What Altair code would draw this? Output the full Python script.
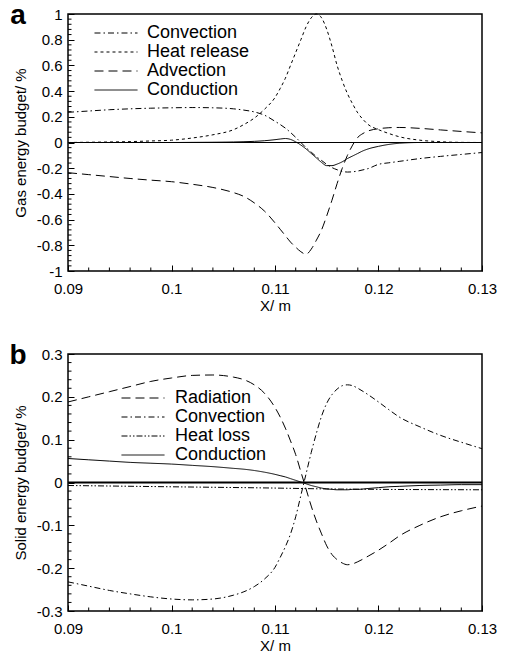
import altair as alt
import pandas as pd

FONT = "Liberation Sans"

# ---------------- Panel a: gas energy budget ----------------
xa = [0.09, 0.092, 0.094, 0.096, 0.098, 0.1, 0.102, 0.104, 0.106, 0.107, 0.108, 0.109,
      0.11, 0.1105, 0.111, 0.1115, 0.112, 0.1125, 0.113, 0.1135, 0.114, 0.1145, 0.115,
      0.1155, 0.116, 0.1165, 0.117, 0.1175, 0.118, 0.1185, 0.119, 0.12, 0.121, 0.122,
      0.124, 0.126, 0.128, 0.13]
a_convection = [0.235, 0.245, 0.255, 0.262, 0.267, 0.27, 0.272, 0.27, 0.262, 0.252, 0.238, 0.212,
                0.165, 0.14, 0.112, 0.078, 0.04, 0.0, -0.04, -0.075, -0.11, -0.14, -0.17,
                -0.195, -0.212, -0.225, -0.23, -0.228, -0.222, -0.213, -0.203, -0.17, -0.158, -0.147,
                -0.125, -0.108, -0.093, -0.078]
a_heat_release = [0.0, 0.002, 0.004, 0.007, 0.012, 0.018, 0.035, 0.06, 0.1, 0.14, 0.19, 0.26,
                  0.35, 0.42, 0.5, 0.6, 0.7, 0.8, 0.9, 0.97, 1.0, 0.97, 0.88,
                  0.75, 0.6, 0.48, 0.38, 0.3, 0.23, 0.18, 0.14, 0.1, 0.07, 0.045,
                  0.018, 0.006, 0.001, 0.0]
a_advection = [-0.235, -0.25, -0.265, -0.28, -0.293, -0.305, -0.325, -0.35, -0.39, -0.42, -0.47, -0.535,
               -0.625, -0.675, -0.725, -0.775, -0.815, -0.85, -0.87, -0.83, -0.76, -0.68, -0.57,
               -0.45, -0.32, -0.2, -0.1, -0.02, 0.04, 0.07, 0.09, 0.107, 0.115, 0.117,
               0.11, 0.098, 0.086, 0.075]
a_conduction = [0.0, 0.0, 0.0, 0.0, 0.0, 0.0, 0.001, 0.002, 0.004, 0.006, 0.009, 0.014,
                0.022, 0.027, 0.031, 0.024, 0.005, -0.02, -0.05, -0.085, -0.12, -0.155, -0.18,
                -0.18, -0.168, -0.15, -0.125, -0.105, -0.085, -0.065, -0.05, -0.03, -0.015, -0.006,
                0.0, 0.0, 0.0, 0.0]

a_series = ["Convection", "Heat release", "Advection", "Conduction"]
a_dashes = [[6, 3, 1.5, 3], [3, 3], [9, 5], [1, 0]]

# ---------------- Panel b: solid energy budget ----------------
xb = [0.09, 0.092, 0.094, 0.096, 0.098, 0.1, 0.102, 0.104, 0.106, 0.107, 0.108, 0.109,
      0.11, 0.1105, 0.111, 0.1115, 0.112, 0.1125, 0.113, 0.1135, 0.114, 0.1145, 0.115,
      0.1155, 0.116, 0.1165, 0.117, 0.1175, 0.118, 0.119, 0.12, 0.121, 0.122,
      0.124, 0.126, 0.128, 0.13]
b_radiation = [0.188, 0.2, 0.212, 0.224, 0.236, 0.244, 0.25, 0.251, 0.246, 0.24, 0.228, 0.208,
               0.175, 0.153, 0.127, 0.097, 0.065, 0.025, -0.015, -0.055, -0.09, -0.12, -0.148,
               -0.168, -0.18, -0.188, -0.192, -0.19, -0.185, -0.172, -0.158, -0.142, -0.125,
               -0.1, -0.08, -0.066, -0.055]
b_convection = [-0.232, -0.242, -0.252, -0.26, -0.267, -0.272, -0.274, -0.272, -0.263, -0.255, -0.243, -0.225,
                -0.198, -0.175, -0.15, -0.12, -0.08, -0.03, 0.02, 0.07, 0.115, 0.155, 0.185,
                0.205, 0.218, 0.226, 0.228, 0.226, 0.22, 0.205, 0.188, 0.17, 0.153,
                0.13, 0.11, 0.094, 0.079]
b_conduction = [0.056, 0.053, 0.05, 0.047, 0.045, 0.043, 0.04, 0.037, 0.033, 0.031, 0.028, 0.024,
                0.019, 0.016, 0.013, 0.009, 0.005, 0.001, -0.003, -0.007, -0.01, -0.013, -0.015,
                -0.016, -0.017, -0.017, -0.017, -0.016, -0.016, -0.014, -0.012, -0.01, -0.009,
                -0.007, -0.006, -0.005, -0.005]
xb_loss = [0.09, 0.1, 0.11, 0.115, 0.12, 0.13]
b_heat_loss = [-0.007, -0.01, -0.013, -0.015, -0.016, -0.017]

b_series = ["Radiation", "Convection", "Heat loss", "Conduction"]
b_dashes = [[9, 5], [6, 3, 1.5, 3], [6, 2, 1.5, 2, 1.5, 2], [1, 0]]

x_major = [0.09, 0.1, 0.11, 0.12, 0.13]
x_minor = [0.092, 0.094, 0.096, 0.098, 0.102, 0.104, 0.106, 0.108, 0.112, 0.114, 0.116, 0.118,
           0.122, 0.124, 0.126, 0.128]
a_y_major = [-1, -0.8, -0.6, -0.4, -0.2, 0, 0.2, 0.4, 0.6, 0.8, 1]
b_y_major = [-0.3, -0.2, -0.1, 0, 0.1, 0.2, 0.3]


def long_df(pairs):
    rows = []
    for name, xs, ys in pairs:
        for xv, yv in zip(xs, ys):
            rows.append({"x": xv, "v": yv, "series": name})
    return pd.DataFrame(rows)


def minor_between(majors, n):
    out = []
    for lo, hi in zip(majors[:-1], majors[1:]):
        for k in range(1, n):
            out.append(round(lo + (hi - lo) * k / n, 6))
    return out


W = 414
TICK = 6
MINOR = 3.5
AX_STYLE = dict(labelFont=FONT, labelFontSize=15, labelColor="black", titleFont=FONT,
                titleFontSize=15, titleFontWeight="normal", titleColor="black",
                tickColor="black", tickWidth=1, domain=False, grid=False, labelOverlap=False)


def panel(df, order, dashes, ytitle, ymajor, H, letter, lx, ly, zero_width, loff):
    xs = alt.Scale(domain=[0.09, 0.13], nice=False, zero=False)
    ys = alt.Scale(domain=[ymajor[0], ymajor[-1]], nice=False, zero=False)
    ax_x = alt.Axis(title="X/ m", values=x_major, labelExpr="'' + datum.value", offset=-TICK,
                    tickSize=TICK, labelPadding=10, titlePadding=2, labelFlush=False, **AX_STYLE)
    ax_y = alt.Axis(title=ytitle, values=ymajor, labelExpr="'' + datum.value", offset=-TICK,
                    tickSize=TICK, labelPadding=6, titlePadding=8, **AX_STYLE)
    lines = alt.Chart(df).mark_line(color="black", strokeWidth=1, interpolate="monotone").encode(
        x=alt.X("x:Q", scale=xs, axis=ax_x),
        y=alt.Y("v:Q", scale=ys, axis=ax_y),
        strokeDash=alt.StrokeDash("series:N", sort=order,
                                  scale=alt.Scale(domain=order, range=dashes),
                                  legend=alt.Legend(
                                      title=None, orient="none", legendX=lx, legendY=ly,
                                      symbolType="M-4,0L4,0", symbolSize=115.6,
                                      symbolStrokeColor="black", symbolStrokeWidth=1,
                                      labelFont=FONT, labelFontSize=18, labelColor="black",
                                      labelOffset=loff, rowPadding=1, padding=0)),
    )
    zero = alt.Chart(pd.DataFrame({"v": [0]})).mark_rule(color="black", strokeWidth=zero_width).encode(
        y=alt.Y("v:Q", scale=ys, axis=ax_y))
    ymin = pd.DataFrame({"v": minor_between(ymajor, 5)})
    yticks = alt.Chart(ymin).mark_rule(color="black", strokeWidth=1).encode(
        y=alt.Y("v:Q", scale=ys, axis=ax_y), x=alt.value(0), x2=alt.value(MINOR))
    xmin = pd.DataFrame({"x": x_minor})
    xticks = alt.Chart(xmin).mark_rule(color="black", strokeWidth=1).encode(
        x=alt.X("x:Q", scale=xs, axis=ax_x), y=alt.value(H), y2=alt.value(H - MINOR))
    lab = alt.Chart(pd.DataFrame({"t": [letter]})).mark_text(
        font=FONT, fontSize=28, fontWeight="bold", color="black", align="center",
        baseline="alphabetic").encode(text="t:N", x=alt.value(-50), y=alt.value(10))
    return alt.layer(lines, zero, yticks, xticks, lab).properties(width=W, height=H)


df_a = long_df([(n, xa, v) for n, v in zip(a_series, [a_convection, a_heat_release, a_advection, a_conduction])])
df_b = long_df([("Radiation", xb, b_radiation), ("Convection", xb, b_convection),
                ("Heat loss", xb_loss, b_heat_loss), ("Conduction", xb, b_conduction)])

pa = panel(df_a, a_series, a_dashes, "Gas energy budget/ %", a_y_major, 257, "a", 39, 10, 1, 22)
pb = panel(df_b, b_series, b_dashes, "Solid energy budget/ %", b_y_major, 257, "b", 66, 35, 2, 23)

chart = alt.vconcat(pa, pb, spacing=27).resolve_scale(strokeDash="independent").properties(
    padding={"left": 0, "top": -7, "right": 0, "bottom": -1}
).configure_view(stroke="black", strokeWidth=1.5)

chart.save("out.html", embed_options={"renderer": "svg", "actions": False})
